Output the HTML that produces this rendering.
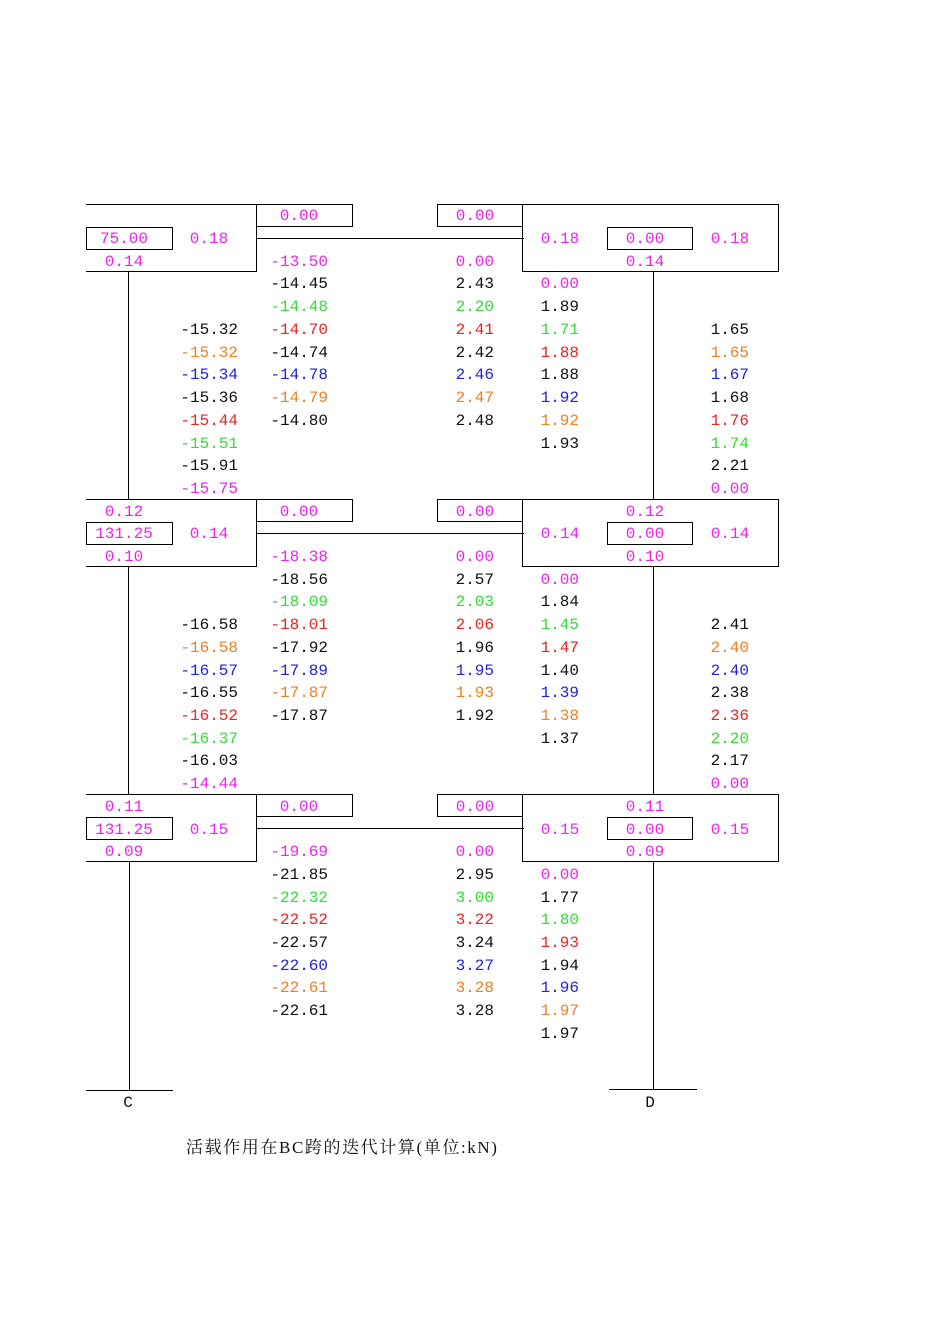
<!DOCTYPE html>
<html><head><meta charset="utf-8"><style>
body{margin:0;background:#fff;}
#p{position:relative;width:950px;height:1344px;overflow:hidden;font-family:"Liberation Mono","Noto Serif CJK SC",monospace;font-size:16px;}
.t{position:absolute;width:90px;height:22px;line-height:22px;white-space:nowrap;margin-top:1px;}
.r{text-align:right;}
.c{text-align:center;}
.h{position:absolute;height:0;border-top:1.3px solid #000;}
.v{position:absolute;width:0;border-left:1.3px solid #000;}
.b{position:absolute;border:1.3px solid #000;box-sizing:border-box;}
.m{color:#ee22ee}.k{color:#111}.g{color:#33dd33}.rd{color:#ee2222}.o{color:#f08020}.bl{color:#2222dd}
</style></head><body><div id="p">
<!-- floor 1 T=204 -->
<div class="h" style="left:86px;top:204px;width:170px"></div>
<div class="b" style="left:256px;top:204px;width:97px;height:23px"></div>
<div class="b" style="left:437px;top:204px;width:86px;height:23px"></div>
<div class="b" style="left:522px;top:204px;width:257px;height:68px"></div>
<div class="v" style="left:256px;top:204px;height:67px"></div>
<div class="h" style="left:86px;top:271px;width:171px"></div>
<div class="b" style="left:86px;top:227px;width:87px;height:23px"></div>
<div class="b" style="left:607px;top:227px;width:86px;height:23px"></div>
<div class="h" style="left:256px;top:238px;width:268px"></div>
<!-- floor 2 T=499 -->
<div class="h" style="left:86px;top:499px;width:170px"></div>
<div class="b" style="left:256px;top:499px;width:97px;height:23px"></div>
<div class="b" style="left:437px;top:499px;width:86px;height:23px"></div>
<div class="b" style="left:522px;top:499px;width:257px;height:68px"></div>
<div class="v" style="left:256px;top:499px;height:67px"></div>
<div class="h" style="left:86px;top:566px;width:171px"></div>
<div class="b" style="left:86px;top:522px;width:87px;height:23px"></div>
<div class="b" style="left:607px;top:522px;width:86px;height:23px"></div>
<div class="h" style="left:256px;top:533px;width:268px"></div>
<!-- floor 3 T=794 -->
<div class="h" style="left:86px;top:794px;width:170px"></div>
<div class="b" style="left:256px;top:794px;width:97px;height:23px"></div>
<div class="b" style="left:437px;top:794px;width:86px;height:23px"></div>
<div class="b" style="left:522px;top:794px;width:257px;height:68px"></div>
<div class="v" style="left:256px;top:794px;height:67px"></div>
<div class="h" style="left:86px;top:861px;width:171px"></div>
<div class="b" style="left:86px;top:817px;width:87px;height:23px"></div>
<div class="b" style="left:607px;top:817px;width:86px;height:23px"></div>
<div class="h" style="left:256px;top:828px;width:268px"></div>
<!-- columns -->
<div class="v" style="left:128px;top:271px;height:228px"></div>
<div class="v" style="left:128px;top:566px;height:228px"></div>
<div class="v" style="left:129px;top:861px;height:229px"></div>
<div class="v" style="left:653px;top:271px;height:228px"></div>
<div class="v" style="left:653px;top:566px;height:228px"></div>
<div class="v" style="left:653px;top:861px;height:228px"></div>
<div class="h" style="left:86px;top:1090px;width:87px"></div>
<div class="h" style="left:609px;top:1089px;width:88px"></div>
<div class="t c k" style="left:83px;top:1091px">C</div>
<div class="t c k" style="left:605px;top:1091px">D</div>
<div class="t k" style="left:186px;top:1136px;width:400px;font-family:'Liberation Serif','Noto Serif CJK SC',serif;font-size:17px;letter-spacing:1.6px">活载作用在BC跨的迭代计算(单位:kN)</div>

<!-- floor1 texts -->
<div class="t c m" style="left:254px;top:204px">0.00</div>
<div class="t c m" style="left:430px;top:204px">0.00</div>
<div class="t c m" style="left:79px;top:227px">75.00</div>
<div class="t c m" style="left:164px;top:227px">0.18</div>
<div class="t c m" style="left:515px;top:227px">0.18</div>
<div class="t c m" style="left:600px;top:227px">0.00</div>
<div class="t c m" style="left:685px;top:227px">0.18</div>
<div class="t c m" style="left:79px;top:250px">0.14</div>
<div class="t c m" style="left:600px;top:250px">0.14</div>
<div class="t r m" style="left:238px;top:250px">-13.50</div>
<div class="t r m" style="left:404px;top:250px">0.00</div>
<div class="t r k" style="left:238px;top:272px">-14.45</div>
<div class="t r k" style="left:404px;top:272px">2.43</div>
<div class="t r m" style="left:489px;top:272px">0.00</div>
<div class="t r g" style="left:238px;top:295px">-14.48</div>
<div class="t r g" style="left:404px;top:295px">2.20</div>
<div class="t r k" style="left:489px;top:295px">1.89</div>
<div class="t r k" style="left:148px;top:318px">-15.32</div>
<div class="t r rd" style="left:238px;top:318px">-14.70</div>
<div class="t r rd" style="left:404px;top:318px">2.41</div>
<div class="t r g" style="left:489px;top:318px">1.71</div>
<div class="t r k" style="left:659px;top:318px">1.65</div>
<div class="t r o" style="left:148px;top:341px">-15.32</div>
<div class="t r k" style="left:238px;top:341px">-14.74</div>
<div class="t r k" style="left:404px;top:341px">2.42</div>
<div class="t r rd" style="left:489px;top:341px">1.88</div>
<div class="t r o" style="left:659px;top:341px">1.65</div>
<div class="t r bl" style="left:148px;top:363px">-15.34</div>
<div class="t r bl" style="left:238px;top:363px">-14.78</div>
<div class="t r bl" style="left:404px;top:363px">2.46</div>
<div class="t r k" style="left:489px;top:363px">1.88</div>
<div class="t r bl" style="left:659px;top:363px">1.67</div>
<div class="t r k" style="left:148px;top:386px">-15.36</div>
<div class="t r o" style="left:238px;top:386px">-14.79</div>
<div class="t r o" style="left:404px;top:386px">2.47</div>
<div class="t r bl" style="left:489px;top:386px">1.92</div>
<div class="t r k" style="left:659px;top:386px">1.68</div>
<div class="t r rd" style="left:148px;top:409px">-15.44</div>
<div class="t r k" style="left:238px;top:409px">-14.80</div>
<div class="t r k" style="left:404px;top:409px">2.48</div>
<div class="t r o" style="left:489px;top:409px">1.92</div>
<div class="t r rd" style="left:659px;top:409px">1.76</div>
<div class="t r g" style="left:148px;top:432px">-15.51</div>
<div class="t r k" style="left:489px;top:432px">1.93</div>
<div class="t r g" style="left:659px;top:432px">1.74</div>
<div class="t r k" style="left:148px;top:454px">-15.91</div>
<div class="t r k" style="left:659px;top:454px">2.21</div>
<div class="t r m" style="left:148px;top:477px">-15.75</div>
<div class="t r m" style="left:659px;top:477px">0.00</div>

<!-- floor2 texts -->
<div class="t c m" style="left:79px;top:500px">0.12</div>
<div class="t c m" style="left:254px;top:500px">0.00</div>
<div class="t c m" style="left:430px;top:500px">0.00</div>
<div class="t c m" style="left:600px;top:500px">0.12</div>
<div class="t c m" style="left:79px;top:522px">131.25</div>
<div class="t c m" style="left:164px;top:522px">0.14</div>
<div class="t c m" style="left:515px;top:522px">0.14</div>
<div class="t c m" style="left:600px;top:522px">0.00</div>
<div class="t c m" style="left:685px;top:522px">0.14</div>
<div class="t c m" style="left:79px;top:545px">0.10</div>
<div class="t c m" style="left:600px;top:545px">0.10</div>
<div class="t r m" style="left:238px;top:545px">-18.38</div>
<div class="t r m" style="left:404px;top:545px">0.00</div>
<div class="t r k" style="left:238px;top:568px">-18.56</div>
<div class="t r k" style="left:404px;top:568px">2.57</div>
<div class="t r m" style="left:489px;top:568px">0.00</div>
<div class="t r g" style="left:238px;top:590px">-18.09</div>
<div class="t r g" style="left:404px;top:590px">2.03</div>
<div class="t r k" style="left:489px;top:590px">1.84</div>
<div class="t r k" style="left:148px;top:613px">-16.58</div>
<div class="t r rd" style="left:238px;top:613px">-18.01</div>
<div class="t r rd" style="left:404px;top:613px">2.06</div>
<div class="t r g" style="left:489px;top:613px">1.45</div>
<div class="t r k" style="left:659px;top:613px">2.41</div>
<div class="t r o" style="left:148px;top:636px">-16.58</div>
<div class="t r k" style="left:238px;top:636px">-17.92</div>
<div class="t r k" style="left:404px;top:636px">1.96</div>
<div class="t r rd" style="left:489px;top:636px">1.47</div>
<div class="t r o" style="left:659px;top:636px">2.40</div>
<div class="t r bl" style="left:148px;top:659px">-16.57</div>
<div class="t r bl" style="left:238px;top:659px">-17.89</div>
<div class="t r bl" style="left:404px;top:659px">1.95</div>
<div class="t r k" style="left:489px;top:659px">1.40</div>
<div class="t r bl" style="left:659px;top:659px">2.40</div>
<div class="t r k" style="left:148px;top:681px">-16.55</div>
<div class="t r o" style="left:238px;top:681px">-17.87</div>
<div class="t r o" style="left:404px;top:681px">1.93</div>
<div class="t r bl" style="left:489px;top:681px">1.39</div>
<div class="t r k" style="left:659px;top:681px">2.38</div>
<div class="t r rd" style="left:148px;top:704px">-16.52</div>
<div class="t r k" style="left:238px;top:704px">-17.87</div>
<div class="t r k" style="left:404px;top:704px">1.92</div>
<div class="t r o" style="left:489px;top:704px">1.38</div>
<div class="t r rd" style="left:659px;top:704px">2.36</div>
<div class="t r g" style="left:148px;top:727px">-16.37</div>
<div class="t r k" style="left:489px;top:727px">1.37</div>
<div class="t r g" style="left:659px;top:727px">2.20</div>
<div class="t r k" style="left:148px;top:749px">-16.03</div>
<div class="t r k" style="left:659px;top:749px">2.17</div>
<div class="t r m" style="left:148px;top:772px">-14.44</div>
<div class="t r m" style="left:659px;top:772px">0.00</div>

<!-- floor3 texts -->
<div class="t c m" style="left:79px;top:795px">0.11</div>
<div class="t c m" style="left:254px;top:795px">0.00</div>
<div class="t c m" style="left:430px;top:795px">0.00</div>
<div class="t c m" style="left:600px;top:795px">0.11</div>
<div class="t c m" style="left:79px;top:818px">131.25</div>
<div class="t c m" style="left:164px;top:818px">0.15</div>
<div class="t c m" style="left:515px;top:818px">0.15</div>
<div class="t c m" style="left:600px;top:818px">0.00</div>
<div class="t c m" style="left:685px;top:818px">0.15</div>
<div class="t c m" style="left:79px;top:840px">0.09</div>
<div class="t c m" style="left:600px;top:840px">0.09</div>
<div class="t r m" style="left:238px;top:840px">-19.69</div>
<div class="t r m" style="left:404px;top:840px">0.00</div>
<div class="t r k" style="left:238px;top:863px">-21.85</div>
<div class="t r k" style="left:404px;top:863px">2.95</div>
<div class="t r m" style="left:489px;top:863px">0.00</div>
<div class="t r g" style="left:238px;top:886px">-22.32</div>
<div class="t r g" style="left:404px;top:886px">3.00</div>
<div class="t r k" style="left:489px;top:886px">1.77</div>
<div class="t r rd" style="left:238px;top:908px">-22.52</div>
<div class="t r rd" style="left:404px;top:908px">3.22</div>
<div class="t r g" style="left:489px;top:908px">1.80</div>
<div class="t r k" style="left:238px;top:931px">-22.57</div>
<div class="t r k" style="left:404px;top:931px">3.24</div>
<div class="t r rd" style="left:489px;top:931px">1.93</div>
<div class="t r bl" style="left:238px;top:954px">-22.60</div>
<div class="t r bl" style="left:404px;top:954px">3.27</div>
<div class="t r k" style="left:489px;top:954px">1.94</div>
<div class="t r o" style="left:238px;top:976px">-22.61</div>
<div class="t r o" style="left:404px;top:976px">3.28</div>
<div class="t r bl" style="left:489px;top:976px">1.96</div>
<div class="t r k" style="left:238px;top:999px">-22.61</div>
<div class="t r k" style="left:404px;top:999px">3.28</div>
<div class="t r o" style="left:489px;top:999px">1.97</div>
<div class="t r k" style="left:489px;top:1022px">1.97</div>
</div></body></html>
